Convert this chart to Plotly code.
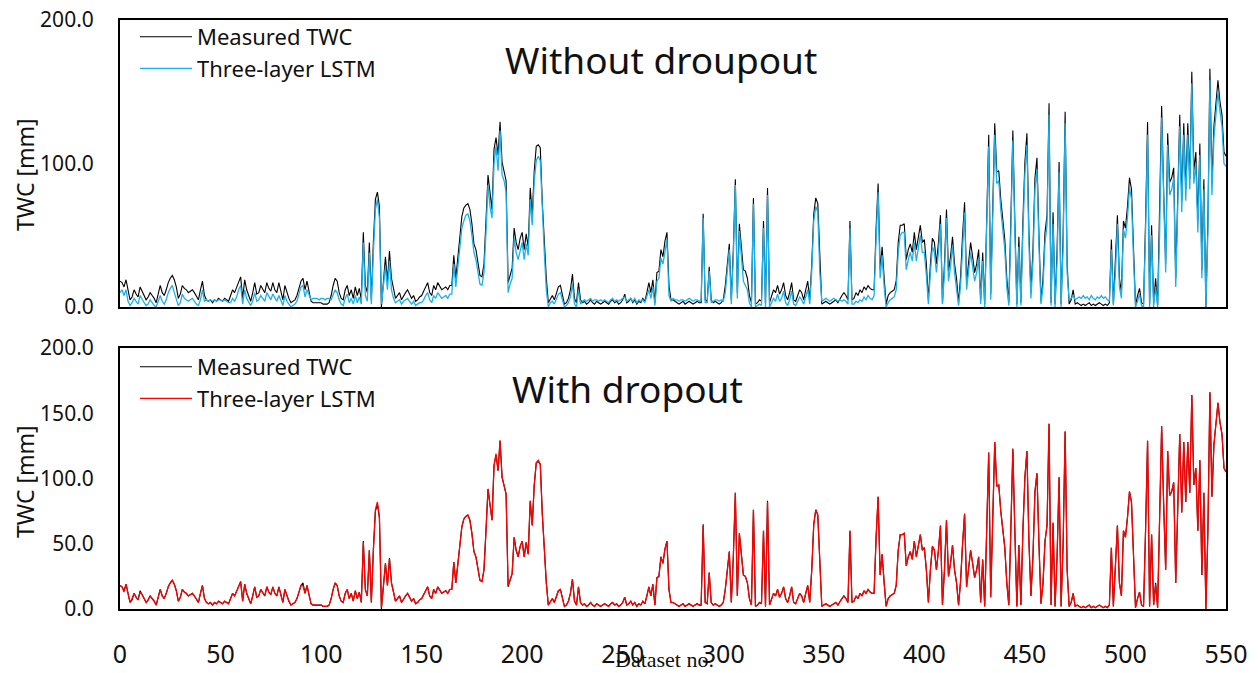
import plotly.graph_objects as go

# ---------------- data ----------------
measured = [
    18, 17, 14, 19, 12, 5, 7, 12, 9, 7,
    14, 11, 8, 5, 7, 10, 8, 6, 3, 10,
    15, 10, 8, 12, 17, 20, 22, 19, 14, 6,
    9, 15, 13, 12, 10, 11, 12, 10, 7, 5,
    12, 18, 8, 5, 4, 5, 3, 5, 4, 6,
    5, 4, 6, 5, 4, 8, 12, 10, 14, 18,
    21, 6, 19, 12, 8, 4, 10, 17, 9, 10,
    15, 12, 10, 17, 13, 11, 17, 12, 10, 17,
    10, 5, 15, 10, 6, 3, 4, 5, 8, 14,
    18, 20, 12, 18, 10, 4, 3, 3, 3, 3,
    3, 2, 2, 2, 3, 8, 15, 20, 18, 10,
    6, 5, 12, 15, 8, 12, 6, 14, 8, 13,
    5, 52, 15, 10, 45, 5, 45, 75, 80, 70,
    0, 20, 35, 18, 39, 20, 12, 6, 8, 10,
    5, 8, 10, 12, 9, 6, 8, 4, 5, 7,
    8, 11, 14, 17, 10, 8, 15, 12, 17, 14,
    12, 13, 14, 12, 15, 15, 36, 20, 35, 52,
    63, 69, 71, 72, 68, 58, 44, 40, 30, 22,
    21, 30, 60, 92, 80, 68, 110, 118, 106, 129,
    101, 95, 88, 17, 22, 27, 55, 45, 40, 48,
    52, 40, 51, 42, 83, 64, 95, 112, 113, 111,
    73, 45, 20, 3, 6, 8, 5, 10, 14, 15,
    8, 2, 3, 6, 12, 23, 6, 3, 17, 5,
    3, 4, 2, 3, 5, 3, 2, 4, 3, 2,
    3, 4, 3, 2, 4, 5, 3, 4, 2, 3,
    5, 9, 3, 4, 6, 3, 5, 2, 4, 3,
    6, 4, 10, 17, 10, 19, 3, 24, 25, 40,
    35, 46, 52, 15, 5, 5, 4, 3, 2, 3,
    4, 2, 3, 4, 3, 2, 3, 4, 3, 3,
    65, 5, 4, 28, 5, 3, 4, 3, 2, 3,
    5, 15, 30, 44, 5, 40, 89, 10, 58, 40,
    26, 25, 20, 8, 3, 76, 2, 3, 5, 4,
    60, 2, 83, 3, 8, 12, 10, 15, 9, 12,
    17, 8, 5, 10, 17, 5, 4, 8, 12, 10,
    5, 12, 18, 5, 30, 65, 76, 72, 30, 2,
    3, 4, 3, 2, 3, 4, 5, 3, 6, 8,
    10, 8, 5, 60, 5, 6, 10, 8, 12, 10,
    14, 12, 15, 13, 12, 12, 55, 86, 26, 42,
    20, 2, 8, 10, 11, 12, 18, 45, 57, 57,
    58, 33, 40, 44, 38, 52, 40, 50, 57, 45,
    47, 30, 5, 30, 48, 45, 30, 45, 64, 3,
    30, 68, 25, 35, 49, 30, 20, 3, 21, 50,
    73, 17, 30, 45, 35, 24, 30, 40, 5, 38,
    2, 60, 120, 9, 80, 128, 94, 95, 75, 60,
    47, 20, 3, 60, 123, 60, 2, 49, 3, 60,
    101, 121, 52, 10, 40, 90, 104, 49, 4, 20,
    52, 64, 142, 3, 66, 2, 40, 101, 2, 50,
    136, 30, 2, 5, 12, 2, 3, 2, 1, 2,
    1, 2, 3, 1, 2, 1, 2, 3, 2, 1,
    2, 1, 3, 47, 2, 30, 64, 20, 10, 60,
    55, 70, 90, 82, 40, 1, 8, 13, 3, 2,
    60, 129, 2, 57, 3, 20, 1, 60, 140, 80,
    30, 121, 87, 90, 97, 20, 80, 134, 74, 128,
    82, 128, 89, 164, 95, 108, 60, 114, 26, 89,
    0, 60, 166, 86, 126, 140, 158, 143, 134, 108, 105,
]

lstm_no_dropout = [
    10, 12, 8, 12, 4, 1, 3, 6, 4, 2,
    8, 5, 3, 1, 2, 5, 3, 1, 0, 4,
    8, 4, 2, 5, 10, 13, 15, 10, 6, 1,
    3, 9, 6, 5, 4, 5, 6, 4, 2, 1,
    5, 12, 4, 5, 4, 5, 4, 5, 4, 5,
    5, 4, 5, 4, 3, 3, 6, 4, 7, 12,
    15, 2, 12, 6, 3, 1, 4, 10, 4, 5,
    8, 6, 4, 10, 7, 5, 9, 6, 4, 8,
    4, 1, 8, 4, 2, 0, 1, 2, 4, 9,
    14, 15, 7, 12, 8, 5, 6, 6, 6, 5,
    6, 6, 5, 6, 6, 5, 8, 12, 10, 5,
    2, 1, 6, 9, 3, 6, 2, 8, 3, 7,
    2, 45, 8, 4, 38, 2, 38, 68, 75, 62,
    2, 15, 28, 12, 32, 12, 6, 3, 4, 5,
    2, 4, 5, 6, 4, 2, 4, 1, 2, 3,
    3, 5, 8, 10, 5, 3, 8, 6, 10, 8,
    6, 7, 8, 6, 9, 9, 30, 14, 28, 45,
    55, 60, 64, 65, 60, 50, 38, 33, 24, 16,
    15, 24, 52, 85, 70, 62, 100, 112, 95, 123,
    92, 88, 80, 10, 16, 20, 48, 38, 33, 40,
    45, 33, 44, 36, 75, 57, 88, 102, 105, 102,
    65, 38, 12, 0, 3, 4, 2, 6, 9, 10,
    4, 0, 1, 3, 7, 16, 2, 0, 12, 2,
    4, 5, 4, 5, 6, 4, 5, 5, 4, 5,
    4, 5, 4, 3, 5, 6, 4, 5, 4, 5,
    6, 7, 4, 5, 6, 4, 6, 3, 5, 4,
    5, 3, 7, 12, 6, 14, 1, 18, 20, 34,
    30, 40, 47, 8, 4, 6, 5, 5, 4, 5,
    5, 4, 5, 6, 5, 4, 5, 5, 4, 5,
    62, 3, 3, 25, 3, 4, 5, 5, 4, 5,
    4, 10, 25, 40, 2, 35, 85, 6, 53, 32,
    18, 15, 12, 3, 0, 72, 0, 1, 2, 1,
    55, 0, 78, 0, 3, 6, 4, 9, 4, 6,
    11, 3, 1, 5, 11, 2, 1, 4, 7, 5,
    2, 7, 12, 2, 25, 60, 70, 66, 24, 4,
    5, 6, 5, 4, 5, 6, 5, 4, 5, 4,
    5, 4, 2, 55, 2, 2, 4, 3, 5, 4,
    7, 5, 8, 6, 5, 8, 48, 80, 20, 36,
    14, 0, 3, 5, 6, 7, 12, 38, 50, 52,
    52, 26, 33, 38, 32, 45, 32, 43, 50, 38,
    38, 22, 2, 24, 42, 38, 24, 38, 58, 2,
    24, 62, 18, 28, 43, 24, 14, 1, 15, 42,
    66, 12, 24, 38, 28, 18, 24, 34, 2, 32,
    0, 52, 112, 5, 72, 120, 86, 88, 68, 52,
    40, 14, 1, 52, 116, 52, 0, 42, 1, 52,
    93, 113, 44, 6, 32, 82, 96, 42, 2, 14,
    45, 57, 134, 1, 58, 0, 32, 94, 0, 42,
    128, 24, 5, 6, 8, 5, 6, 7, 6, 8,
    6, 7, 5, 8, 6, 5, 7, 6, 8, 6,
    7, 5, 4, 40, 1, 24, 58, 14, 6, 54,
    48, 62, 83, 75, 34, 0, 4, 9, 1, 0,
    52, 120, 0, 50, 0, 14, 0, 52, 132, 72,
    24, 113, 78, 82, 90, 14, 72, 126, 66, 120,
    74, 120, 82, 156, 86, 100, 52, 106, 20, 82,
    0, 52, 158, 78, 118, 132, 150, 136, 126, 100, 98,
]

lstm_dropout = [
    18, 17, 13, 19, 12, 5, 8, 12, 9, 7,
    13, 11, 8, 5, 7, 10, 8, 6, 3, 10,
    15, 10, 8, 12, 17, 20, 22, 19, 14, 6,
    9, 15, 13, 12, 10, 11, 12, 10, 7, 5,
    12, 18, 8, 5, 4, 5, 3, 5, 4, 6,
    5, 4, 6, 5, 4, 8, 12, 10, 14, 18,
    21, 6, 19, 12, 8, 4, 10, 17, 9, 10,
    15, 12, 10, 17, 13, 11, 17, 12, 10, 17,
    10, 5, 15, 10, 6, 3, 4, 5, 8, 14,
    18, 18, 12, 18, 10, 4, 3, 3, 3, 3,
    3, 2, 2, 2, 3, 8, 15, 20, 18, 10,
    6, 5, 12, 15, 8, 12, 6, 14, 8, 13,
    5, 51, 15, 10, 45, 5, 45, 76, 82, 71,
    1, 20, 35, 18, 38, 20, 12, 6, 8, 10,
    5, 8, 10, 12, 9, 6, 8, 4, 5, 7,
    8, 11, 14, 17, 10, 8, 15, 12, 17, 14,
    12, 13, 14, 12, 15, 15, 36, 20, 35, 52,
    63, 69, 71, 72, 68, 58, 44, 40, 30, 22,
    21, 30, 60, 92, 80, 68, 110, 119, 106, 129,
    101, 95, 88, 18, 22, 27, 55, 45, 40, 48,
    52, 40, 51, 42, 83, 64, 95, 112, 114, 111,
    73, 45, 20, 3, 6, 8, 5, 10, 14, 15,
    8, 2, 3, 6, 12, 23, 6, 3, 17, 5,
    3, 4, 2, 3, 5, 3, 2, 4, 3, 2,
    3, 4, 3, 2, 4, 5, 3, 4, 2, 3,
    5, 9, 3, 4, 6, 3, 5, 2, 4, 3,
    6, 4, 10, 17, 10, 19, 3, 24, 25, 40,
    35, 46, 52, 15, 5, 5, 4, 3, 2, 3,
    4, 2, 3, 4, 3, 2, 3, 4, 3, 3,
    64, 5, 4, 28, 5, 3, 4, 3, 2, 3,
    5, 15, 30, 44, 5, 40, 89, 10, 58, 40,
    26, 25, 20, 8, 3, 76, 2, 3, 5, 4,
    60, 2, 82, 3, 8, 12, 10, 15, 9, 12,
    17, 8, 5, 10, 17, 5, 4, 8, 12, 10,
    5, 12, 18, 5, 30, 65, 76, 72, 30, 2,
    3, 4, 3, 2, 3, 4, 5, 3, 6, 8,
    10, 8, 5, 60, 5, 6, 10, 8, 12, 10,
    14, 12, 15, 13, 12, 12, 55, 86, 26, 42,
    20, 2, 8, 10, 11, 12, 18, 45, 57, 57,
    58, 33, 40, 44, 38, 52, 40, 50, 57, 45,
    47, 30, 5, 30, 48, 45, 30, 45, 64, 3,
    30, 68, 25, 35, 49, 30, 20, 3, 21, 50,
    73, 17, 30, 45, 35, 24, 30, 40, 5, 38,
    2, 60, 120, 9, 80, 128, 94, 95, 75, 60,
    47, 20, 3, 60, 122, 60, 2, 49, 3, 60,
    101, 121, 52, 10, 40, 90, 104, 49, 4, 20,
    52, 64, 142, 3, 66, 2, 40, 101, 2, 50,
    136, 30, 2, 5, 12, 2, 3, 2, 1, 2,
    1, 2, 3, 1, 2, 1, 2, 3, 2, 1,
    2, 1, 3, 47, 2, 30, 64, 20, 10, 60,
    55, 70, 90, 82, 40, 1, 8, 13, 3, 2,
    60, 129, 2, 57, 3, 19, 1, 60, 140, 80,
    30, 121, 87, 90, 97, 20, 80, 134, 74, 128,
    82, 128, 89, 164, 95, 108, 60, 114, 26, 89,
    0, 60, 166, 86, 126, 140, 158, 143, 134, 108, 105,
]

top_yticks = [0, 100, 200]
bottom_yticks = [0, 50, 100, 150, 200]
xticks = [0, 50, 100, 150, 200, 250, 300, 350, 400, 450, 500, 550]

FONT = "Noto Sans"
OFF = 8                      # page body margin of the html page
W, H = 1258 - OFF, 673 - OFF
# plot area wanted in screen pixels: x 120..1226, y 20..609
ML, MR = 120 - OFF, 1258 - 1226
MT, MB = 20 - OFF, 673 - 609
PW, PH = W - ML - MR, H - MT - MB


def fx(p):
    """screen pixel x -> paper fraction of the plot area"""
    return (p - OFF - ML) / PW


def fy(p):
    """screen pixel y (from top) -> paper fraction of the plot area"""
    return (H - MB - (p - OFF)) / PH


fig = go.Figure()

fig.add_trace(go.Scatter(x=list(range(len(measured))), y=measured, mode="lines",
                         name="Measured TWC", line=dict(color="#000000", width=1.1),
                         xaxis="x", yaxis="y", legend="legend"))
fig.add_trace(go.Scatter(x=list(range(len(lstm_no_dropout))), y=lstm_no_dropout, mode="lines",
                         name="Three-layer LSTM", line=dict(color="#1AB0EA", width=1.3),
                         xaxis="x", yaxis="y", legend="legend"))
fig.add_trace(go.Scatter(x=list(range(len(measured))), y=measured, mode="lines",
                         name="Measured TWC", line=dict(color="#000000", width=1.1),
                         xaxis="x2", yaxis="y2", legend="legend2"))
fig.add_trace(go.Scatter(x=list(range(len(lstm_dropout))), y=lstm_dropout, mode="lines",
                         name="Three-layer LSTM", line=dict(color="#FF0000", width=1.3),
                         xaxis="x2", yaxis="y2", legend="legend2"))

axis_common = dict(showline=True, linecolor="black", linewidth=2, mirror=True,
                   showgrid=False, zeroline=False, ticks="", automargin=False,
                   ticklabeloverflow="allow")

fig.update_layout(
    width=W, height=H,
    margin=dict(l=ML, r=MR, t=MT, b=MB, autoexpand=False),
    plot_bgcolor="white", paper_bgcolor="white",
    font=dict(family=FONT, color="#111111"),
    xaxis=dict(domain=[0, 1], range=[0, 550], anchor="y", showticklabels=False,
               **axis_common),
    yaxis=dict(domain=[fy(307), fy(20)], range=[0, 200], anchor="x",
               tickvals=top_yticks, tickformat=".1f", ticklabelstandoff=20,
               tickfont=dict(size=21, family=FONT), **axis_common),
    xaxis2=dict(domain=[0, 1], range=[0, 550], anchor="y2", tickvals=xticks,
                ticklabelstandoff=22, tickfont=dict(size=25, family=FONT),
                **axis_common),
    yaxis2=dict(domain=[fy(609), fy(348)], range=[0, 200], anchor="x2",
                tickvals=bottom_yticks, tickformat=".1f", ticklabelstandoff=20,
                tickfont=dict(size=21, family=FONT), **axis_common),
    legend=dict(x=fx(135), y=fy(16), xanchor="left", yanchor="top",
                bgcolor="rgba(0,0,0,0)", font=dict(size=22, family=FONT),
                itemwidth=52, tracegroupgap=0),
    legend2=dict(x=fx(135), y=fy(346), xanchor="left", yanchor="top",
                 bgcolor="rgba(0,0,0,0)", font=dict(size=22, family=FONT),
                 itemwidth=52, tracegroupgap=0),
    showlegend=True,
)

annotations = [
    dict(text="Without droupout", x=fx(661), y=fy(60), xref="paper", yref="paper",
         showarrow=False, font=dict(size=37, family=FONT, color="#111111"),
         xanchor="center", yanchor="middle"),
    dict(text="With dropout", x=fx(627), y=fy(388), xref="paper", yref="paper",
         showarrow=False, font=dict(size=37, family=FONT, color="#111111"),
         xanchor="center", yanchor="middle"),
    dict(text="TWC [mm]", x=fx(25), y=fy(175), xref="paper", yref="paper",
         showarrow=False, textangle=-90, font=dict(size=23, family=FONT, color="#111111"),
         xanchor="center", yanchor="middle"),
    dict(text="TWC [mm]", x=fx(25), y=fy(482), xref="paper", yref="paper",
         showarrow=False, textangle=-90, font=dict(size=23, family=FONT, color="#111111"),
         xanchor="center", yanchor="middle"),
    dict(text="Dataset no.", x=fx(664), y=fy(659), xref="paper", yref="paper",
         showarrow=False, font=dict(size=22, family="Liberation Serif", color="#111111"),
         xanchor="center", yanchor="middle"),
]
fig.update_layout(annotations=annotations)

fig.write_html("out.html")
